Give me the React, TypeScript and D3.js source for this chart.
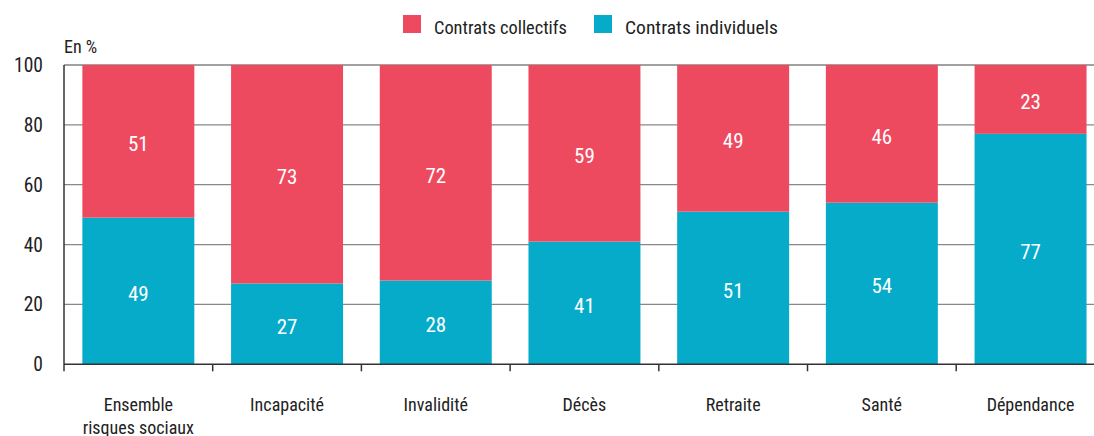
import React from "react";
import * as d3 from "d3";

const categories = ["Ensemble|risques sociaux", "Incapacité", "Invalidité", "Décès", "Retraite", "Santé", "Dépendance"];
const collectifs = [51, 73, 72, 59, 49, 46, 23];
const individuels = [49, 27, 28, 41, 51, 54, 77];
const yTicks = [0, 20, 40, 60, 80, 100];
const seriesNames = ["Contrats collectifs", "Contrats individuels"];

const RED = "#ee4a5f";
const TEAL = "#06abca";
const FONT = "'Roboto Condensed', 'DejaVu Sans Condensed', 'Liberation Sans Narrow', sans-serif";

export default function App() {
  const W = 1094, H = 436;
  const left = 64, top = 65, bottom = 364.3;
  const bandW = 148.7;
  const x = d3.scaleBand<string>().domain(categories).range([left, left + bandW * categories.length]).paddingInner(0.247).paddingOuter(0.1235);
  const y = d3.scaleLinear().domain([0, 100]).range([bottom, top]);
  const bw = x.bandwidth();
  const bandEdges = categories.map((_, i) => left + bandW * i);

  return (
    <svg width={W} height={H} style={{ position: "absolute", left: 0, top: 0, fontFamily: FONT, fontStretch: "condensed" }}>
      <rect width={W} height={H} fill="#fff" />
      {/* legend */}
      <rect x={403} y={15} width={18} height={18} fill={RED} />
      <text x={434} y={34} fontSize={19} fill="#222" textLength={133} lengthAdjust="spacingAndGlyphs">{seriesNames[0]}</text>
      <rect x={594} y={15} width={18} height={18} fill={TEAL} />
      <text x={625} y={34} fontSize={19} fill="#222" textLength={153} lengthAdjust="spacingAndGlyphs">{seriesNames[1]}</text>
      {/* unit */}
      <text x={64} y={53} fontSize={18} fill="#222">En %</text>
      {/* grid */}
      {yTicks.filter(t => t > 0).map(t => (
        <line key={t} x1={left} x2={W} y1={y(t)} y2={y(t)} stroke={t === 100 ? "#444" : "#888"} strokeWidth={1.2} />
      ))}
      {yTicks.map(t => (
        <text key={t} x={43} y={y(t) + 7} fontSize={19.5} textAnchor="end" fill="#222">{t}</text>
      ))}
      {/* bars */}
      {categories.map((c, i) => {
        const x0 = x(c)!;
        const yInd = y(individuels[i]);
        return (
          <g key={c}>
            <rect x={x0} y={yInd} width={bw} height={bottom - yInd} fill={TEAL} />
            <rect x={x0} y={y(100)} width={bw} height={yInd - y(100)} fill={RED} />
            <text x={x0 + bw / 2} y={(yInd + bottom) / 2 + 10} fontSize={21} fill="#fff" textAnchor="middle">{individuels[i]}</text>
            <text x={x0 + bw / 2} y={(yInd + y(100)) / 2 + 10} fontSize={21} fill="#fff" textAnchor="middle">{collectifs[i]}</text>
            {c.split("|").map((line, j) => (
              <text key={j} x={x0 + bw / 2} y={410.5 + j * 23} fontSize={18} fill="#222" textAnchor="middle">{line}</text>
            ))}
          </g>
        );
      })}
      {/* axes */}
      <line x1={left} x2={left} y1={top} y2={bottom} stroke="#333" strokeWidth={1.5} />
      <line x1={left} x2={W} y1={bottom} y2={bottom} stroke="#333" strokeWidth={1.5} />
      {bandEdges.map((e, i) => (
        <line key={i} x1={e} x2={e} y1={bottom} y2={bottom + 7} stroke="#333" strokeWidth={1.5} />
      ))}
    </svg>
  );
}
